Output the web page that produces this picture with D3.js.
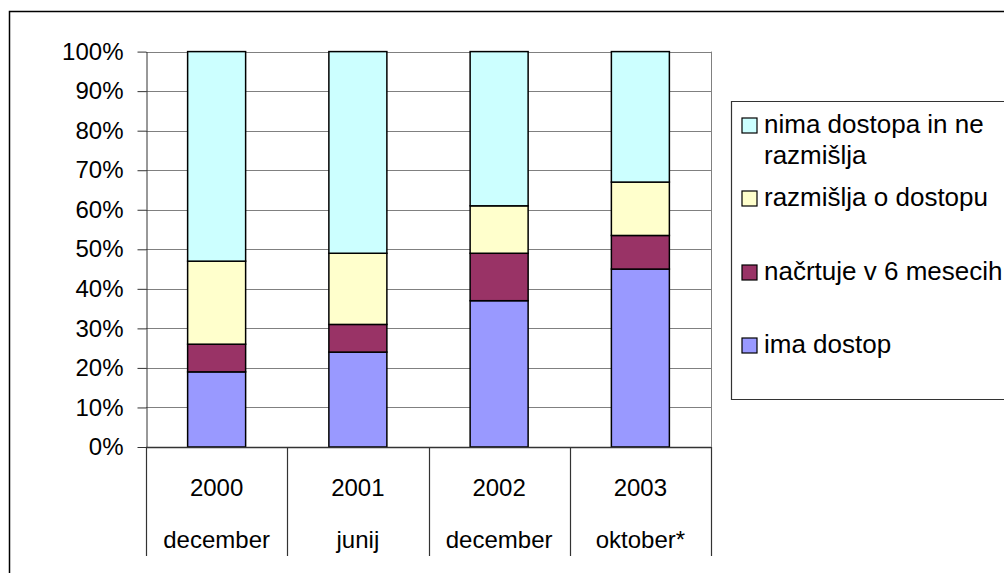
<!DOCTYPE html>
<html>
<head>
<meta charset="utf-8">
<script src="https://cdn.jsdelivr.net/npm/d3@7"></script>
<style>
  body { margin: 0; background: #fff; }
  text { font-family: "Liberation Sans", Arial, sans-serif; fill: #000; }
</style>
</head>
<body>
<svg width="1004" height="573"></svg>
<script>
// data (percent of respondents)
const years = ["2000", "2001", "2002", "2003"];
const months = ["december", "junij", "december", "oktober*"];
const imaDostop = [19, 24, 37, 45];
const nacrtuje = [7, 7, 12, 8.5];
const razmislja = [21, 18, 12, 13.5];
const nima = [53, 51, 39, 33];
const seriesNames = ["ima dostop", "načrtuje v 6 mesecih", "razmišlja o dostopu", "nima dostopa in ne razmišlja"];
const colors = ["#9999ff", "#993366", "#ffffcc", "#ccffff"];
const yTicks = [0, 10, 20, 30, 40, 50, 60, 70, 80, 90, 100];

let svg = d3.select("svg");

// outer frame (only top and left visible)
svg.append("path")
  .attr("d", "M9.5,573V11.5H1004")
  .attr("fill", "none")
  .attr("stroke", "#000")
  .attr("stroke-width", 1.5);

const plotL = 146, plotR = 711, plotT = 51.6, plotB = 447;

let rows = years.map(function(y, i) {
  return { year: y, month: months[i], s0: imaDostop[i], s1: nacrtuje[i], s2: razmislja[i], s3: nima[i] };
});

let xScale = d3.scaleBand().domain(years).range([plotL, plotR]).paddingInner(0).paddingOuter(0);
let yScale = d3.scaleLinear().domain([0, 100]).range([plotB, plotT]);

let stack = d3.stack().keys(["s0", "s1", "s2", "s3"]);
let stacked = stack(rows);

// gridlines
svg.append("g")
  .selectAll("line")
  .data(yTicks)
  .enter()
  .append("line")
  .attr("x1", plotL)
  .attr("x2", plotR)
  .attr("y1", function(d) { return Math.round(yScale(d)) + 0.5; })
  .attr("y2", function(d) { return Math.round(yScale(d)) + 0.5; })
  .attr("stroke", "#808080")
  .attr("stroke-width", 1);

// right plot edge
svg.append("line")
  .attr("x1", plotR + 0.5).attr("x2", plotR + 0.5)
  .attr("y1", plotT).attr("y2", plotB)
  .attr("stroke", "#808080");

// bars
const barW = 58;
svg.append("g")
  .selectAll("g")
  .data(stacked)
  .enter()
  .append("g")
  .attr("fill", function(d, i) { return colors[i]; })
  .selectAll("rect")
  .data(function(d) { return d; })
  .enter()
  .append("rect")
  .attr("x", function(d) { return xScale(d.data.year) + (xScale.bandwidth() - barW) / 2; })
  .attr("y", function(d) { return yScale(d[1]); })
  .attr("width", barW)
  .attr("height", function(d) { return yScale(d[0]) - yScale(d[1]); })
  .attr("stroke", "#000")
  .attr("stroke-width", 1.5);

// y axis
let yAxis = svg.append("g")
  .attr("transform", "translate(" + (plotL + 0.5) + ",0)")
  .call(d3.axisLeft(yScale).tickValues(yTicks).tickSize(9).tickSizeOuter(0).tickPadding(14)
    .tickFormat(function(d) { return d + "%"; }));
yAxis.select(".domain").attr("stroke", "#333");
yAxis.selectAll(".tick line").attr("stroke", "#333");
yAxis.selectAll("text")
  .attr("font-size", 24)
  .attr("font-family", "Liberation Sans, Arial, sans-serif")
  .attr("fill", "#000");

// category axis: line and separators
svg.append("line")
  .attr("x1", plotL).attr("x2", plotR)
  .attr("y1", plotB + 0.5).attr("y2", plotB + 0.5)
  .attr("stroke", "#333").attr("stroke-width", 1.5);

let seps = years.map(function(y) { return xScale(y); }).concat([plotR]);
svg.append("g")
  .selectAll("line")
  .data(seps)
  .enter()
  .append("line")
  .attr("x1", function(d) { return Math.round(d) + 0.5; })
  .attr("x2", function(d) { return Math.round(d) + 0.5; })
  .attr("y1", plotB)
  .attr("y2", 556)
  .attr("stroke", "#333")
  .attr("stroke-width", 1.2);

let cats = svg.append("g")
  .selectAll("g")
  .data(rows)
  .enter()
  .append("g");
cats.append("text")
  .attr("x", function(d) { return xScale(d.year) + xScale.bandwidth() / 2; })
  .attr("y", 496)
  .attr("text-anchor", "middle")
  .attr("font-size", 24)
  .text(function(d) { return d.year; });
cats.append("text")
  .attr("x", function(d) { return xScale(d.year) + xScale.bandwidth() / 2; })
  .attr("y", 548)
  .attr("text-anchor", "middle")
  .attr("font-size", 24)
  .text(function(d) { return d.month; });

// legend
svg.append("path")
  .attr("d", "M1004,101.5H731.5V399.5H1004")
  .attr("fill", "none")
  .attr("stroke", "#333")
  .attr("stroke-width", 1.2);

let legendItems = [
  { i: 3, lines: ["nima dostopa in ne", "razmišlja"], y: 124 },
  { i: 2, lines: ["razmišlja o dostopu"], y: 197 },
  { i: 1, lines: ["načrtuje v 6 mesecih"], y: 271 },
  { i: 0, lines: ["ima dostop"], y: 344 }
];
let leg = svg.append("g")
  .selectAll("g")
  .data(legendItems)
  .enter()
  .append("g");
leg.append("rect")
  .attr("x", 742)
  .attr("y", function(d) { return d.y - 6; })
  .attr("width", 15)
  .attr("height", 15)
  .attr("fill", function(d) { return colors[d.i]; })
  .attr("stroke", "#000")
  .attr("stroke-width", 1.2);
leg.each(function(d) {
  let g = d3.select(this);
  d.lines.forEach(function(t, k) {
    g.append("text")
      .attr("x", 764)
      .attr("y", d.y + k * 31)
      .attr("dy", "0.35em")
      .attr("font-size", 26)
      .text(t);
  });
});
</script>
</body>
</html>
